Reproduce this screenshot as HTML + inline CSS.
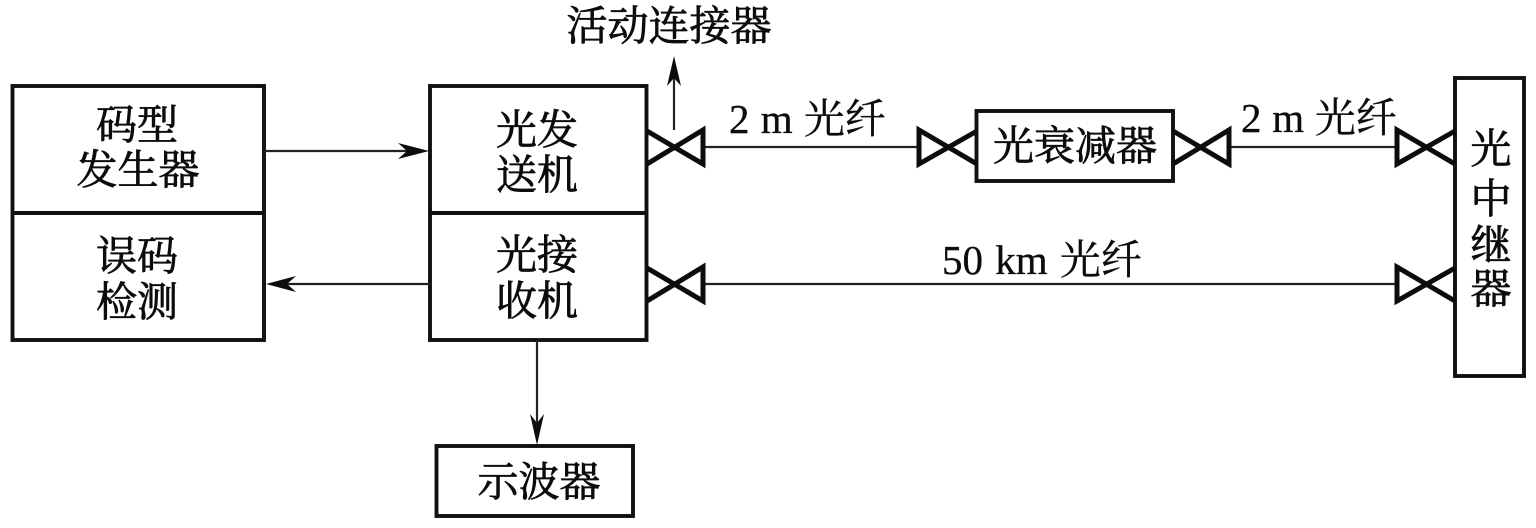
<!DOCTYPE html>
<html><head><meta charset="utf-8"><style>
html,body{margin:0;padding:0;background:#fff;width:1536px;height:528px;overflow:hidden}
svg{display:block}
text{font-family:"Liberation Serif","Noto Serif CJK SC",serif;fill:#0c0c0c;font-size:41px;stroke:#0c0c0c;stroke-width:.8px}
.c{text-anchor:middle}
.b{fill:none;stroke:#111;stroke-width:3.9}
.l{fill:none;stroke:#222;stroke-width:2.2}
.h{fill:#0c0c0c;stroke:none}
.x{fill:none;stroke:#0c0c0c;stroke-width:5;stroke-linejoin:miter}
.t{stroke-width:.35px}
</style></head><body>
<svg width="1536" height="528" viewBox="0 0 1536 528" xmlns="http://www.w3.org/2000/svg">
<rect class="b" x="12.5" y="86" width="251.5" height="254"/>
<line class="b" x1="12" y1="213" x2="264" y2="213"/>
<rect class="b" x="430" y="86" width="216.5" height="254"/>
<line class="b" x1="430" y1="213" x2="647" y2="213"/>
<rect class="b" x="976.5" y="111" width="196.5" height="70"/>
<rect class="b" x="1455" y="78" width="69" height="298"/>
<rect class="b" x="436.5" y="446" width="196.5" height="70"/>

<line class="l" x1="264" y1="151" x2="420" y2="151"/>
<path class="h" d="M429 151L398 143L407 151L398 159Z"/>
<line class="l" x1="430" y1="284" x2="275" y2="284"/>
<path class="h" d="M266 284L296 276L287 284L296 292Z"/>
<line class="l" x1="537" y1="340" x2="537" y2="430"/>
<path class="h" d="M537 445L530 414L537 423L544 414Z"/>
<line class="l" x1="674" y1="130" x2="674" y2="70"/>
<path class="h" d="M674 56L667 86L674 78L681 86Z"/>
<line class="l" x1="703" y1="147" x2="919" y2="147"/>
<line class="l" x1="1229" y1="147" x2="1397" y2="147"/>
<line class="l" x1="703" y1="284" x2="1397" y2="284"/>

<path class="x" d="M647 131L703 164V130L647 164"/>
<path class="x" d="M977 131L919 164V130L977 164"/>
<path class="x" d="M1173 131L1229 164V130L1173 164"/>
<path class="x" d="M1455 131L1397 164V130L1455 164"/>
<path class="x" d="M647 268L703 301V267L647 301"/>
<path class="x" d="M1455 268L1397 301V267L1455 301"/>

<text class="c" x="137" y="139">码型</text>
<text class="c" x="138" y="184">发生器</text>
<text class="c" x="137" y="270">误码</text>
<text class="c" x="137" y="316">检测</text>
<text class="c" x="537" y="144">光发</text>
<text class="c" x="537" y="189">送机</text>
<text class="c" x="537" y="269">光接</text>
<text class="c" x="537" y="315">收机</text>
<text class="c" x="669" y="40">活动连接器</text>
<text class="c" x="1075" y="160">光衰减器</text>
<text class="c" x="539" y="496">示波器</text>
<text class="c" x="1491" y="163">光</text>
<text class="c" x="1491" y="213">中</text>
<text class="c" x="1491" y="259">继</text>
<text class="c" x="1491" y="303">器</text>
<text class="t" x="729" y="133" word-spacing="1" xml:space="preserve">2 m 光纤</text>
<text class="t" x="1241" y="132" word-spacing=".5" xml:space="preserve">2 m 光纤</text>
<text class="t" x="942" y="274" word-spacing="2" xml:space="preserve">50 km 光纤</text>
</svg>
</body></html>
